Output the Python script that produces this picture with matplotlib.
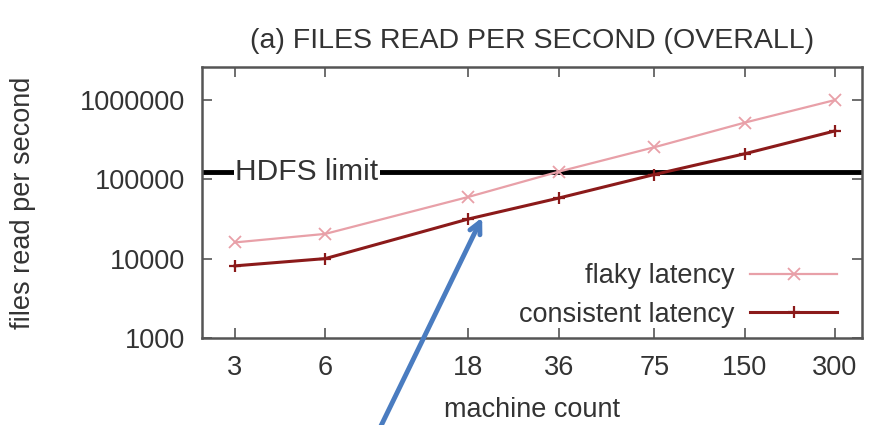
import matplotlib.pyplot as plt
from matplotlib.ticker import FixedLocator, NullLocator, FixedFormatter

plt.rcParams['font.family'] = ['Liberation Sans', 'DejaVu Sans']

machines = [3, 6, 18, 36, 75, 150, 300]
flaky = [16000, 20500, 60000, 125000, 254000, 519000, 1000000]
consistent = [8100, 10000, 31600, 58000, 115000, 210000, 408000]
hdfs_limit = 125000
y_ticks = [1000, 10000, 100000, 1000000]

text_col = '#333333'
fs = 19.5

fig = plt.figure(figsize=(8.71, 4.25), dpi=100)
ax = fig.add_axes([0.232, 0.205, 0.758, 0.637])

ax.set_xscale('log')
ax.set_yscale('log')
ax.set_xlim(2.33, 370)
ax.set_ylim(1000, 2.6e6)

# HDFS limit
ax.axhline(hdfs_limit, color='black', lw=3.5, zorder=2)
ax.text(3.0, hdfs_limit, 'HDFS limit', fontsize=21.5, color=text_col, va='center', ha='left',
        bbox=dict(facecolor='white', edgecolor='none', pad=1), zorder=3)

ax.plot(machines, flaky, color='#e8a0a8', lw=1.6, marker='x', ms=8, mew=1.3,
        label='flaky latency', zorder=4)
ax.plot(machines, consistent, color='#8b1a1a', lw=2.2, marker='+', ms=9, mew=1.6,
        label='consistent latency', zorder=4)

ax.xaxis.set_major_locator(FixedLocator(machines))
ax.xaxis.set_major_formatter(FixedFormatter([str(m) for m in machines]))
ax.xaxis.set_minor_locator(NullLocator())
ax.yaxis.set_major_locator(FixedLocator(y_ticks))
ax.yaxis.set_major_formatter(FixedFormatter([str(v) for v in y_ticks]))
ax.yaxis.set_minor_locator(NullLocator())

ax.tick_params(direction='in', length=7, width=1.2, top=True, right=True,
               labelsize=fs, labelcolor=text_col, color='#555555')
ax.tick_params(axis='x', pad=12)
ax.tick_params(axis='y', pad=12)
for s in ax.spines.values():
    s.set_color('#555555')
    s.set_linewidth(1.8)

ax.set_xlabel('machine count', fontsize=fs, color=text_col, labelpad=12)
ax.set_ylabel('files read per second', fontsize=fs, color=text_col, labelpad=32)
ax.set_title('(a) FILES READ PER SECOND (OVERALL)', fontsize=20.5, color=text_col, pad=14)

leg = ax.legend(loc='lower right', bbox_to_anchor=(0.97, 0.018), frameon=False, fontsize=fs,
                markerfirst=False, handlelength=3.2, handletextpad=0.6, labelspacing=0.45,
                borderaxespad=0, borderpad=0.2)
for t in leg.get_texts():
    t.set_color(text_col)

# blue arrow pointing to the consistent curve
ax.annotate('', xy=(20, 33000), xycoords='data',
            xytext=(0.27, -0.33), textcoords='axes fraction',
            arrowprops=dict(arrowstyle='->,head_width=0.4,head_length=0.8',
                            color='#4a7cc0', lw=3.5, shrinkA=0, shrinkB=0),
            annotation_clip=False)

fig.savefig('out.png', dpi=100)
